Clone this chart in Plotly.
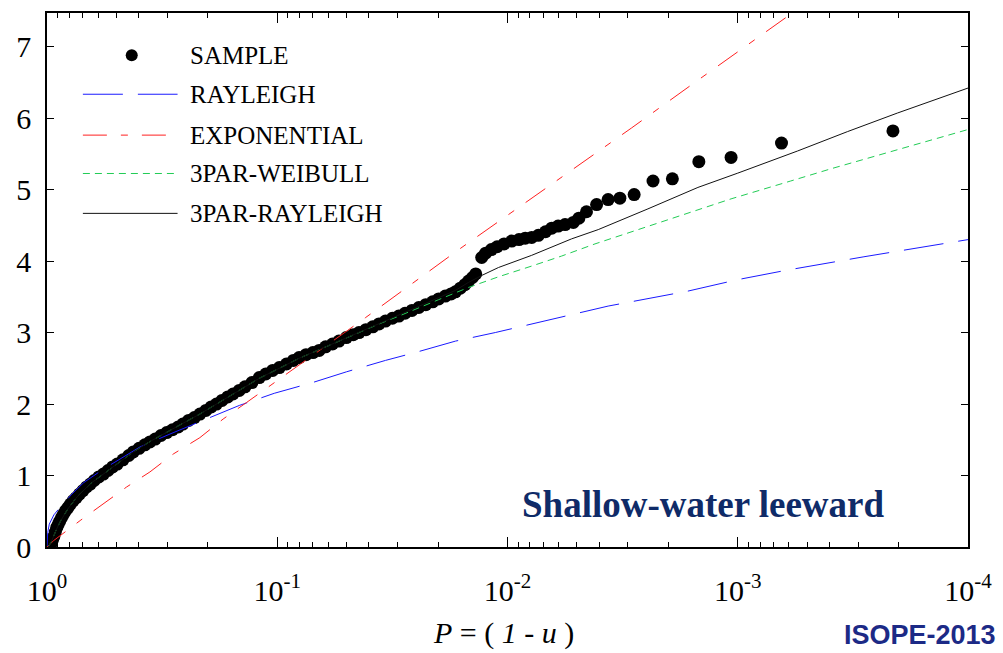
import numpy as np
import plotly.graph_objects as go

# ---- data: exceedance probability given as log10(P), value on the y axis ----
sample_log10p = [-0.013, -0.018, -0.024, -0.030, -0.036, -0.042, -0.048, -0.055, -0.063, -0.072,
                 -0.081, -0.091, -0.102, -0.114, -0.127, -0.141, -0.156, -0.172, -0.188, -0.205,
                 -0.225, -0.245, -0.265, -0.285, -0.305, -0.330, -0.355, -0.375, -0.400, -0.425,
                 -0.447, -0.470, -0.495, -0.520, -0.545, -0.570, -0.590, -0.615, -0.640, -0.664,
                 -0.690, -0.713, -0.736, -0.760, -0.785, -0.808, -0.835, -0.860, -0.890, -0.922,
                 -0.950, -0.980, -1.009, -1.040, -1.070, -1.095, -1.125, -1.155, -1.182, -1.210,
                 -1.240, -1.268, -1.300, -1.330, -1.355, -1.385, -1.415, -1.442, -1.470, -1.500,
                 -1.528, -1.555, -1.585, -1.615, -1.645, -1.675, -1.701, -1.730, -1.755, -1.774,
                 -1.795, -1.815, -1.831, -1.848, -1.862,
                 -1.888, -1.905, -1.930, -1.955, -1.985, -2.018, -2.050, -2.077, -2.105, -2.134,
                 -2.165, -2.192, -2.220, -2.250, -2.286, -2.310, -2.343, -2.387, -2.437, -2.488,
                 -2.550, -2.632, -2.716, -2.831, -2.971, -3.190, -3.674]
sample_y = [0.00, 0.05, 0.10, 0.15, 0.21, 0.27, 0.31, 0.36, 0.41, 0.46,
            0.51, 0.55, 0.60, 0.65, 0.69, 0.74, 0.79, 0.84, 0.88, 0.93,
            0.98, 1.02, 1.07, 1.12, 1.16, 1.22, 1.28, 1.33, 1.38, 1.43,
            1.47, 1.51, 1.56, 1.60, 1.64, 1.68, 1.72, 1.77, 1.81, 1.86,
            1.91, 1.96, 2.00, 2.05, 2.10, 2.14, 2.19, 2.24, 2.30, 2.37,
            2.42, 2.47, 2.51, 2.56, 2.61, 2.65, 2.69, 2.72, 2.75, 2.80,
            2.84, 2.88, 2.93, 2.97, 3.00, 3.04, 3.08, 3.12, 3.16, 3.20,
            3.23, 3.27, 3.31, 3.35, 3.39, 3.43, 3.47, 3.51, 3.54, 3.57,
            3.62, 3.67, 3.72, 3.77, 3.82,
            4.05, 4.11, 4.16, 4.20, 4.24, 4.28, 4.30, 4.32, 4.33, 4.36,
            4.41, 4.46, 4.49, 4.51, 4.54, 4.60, 4.69, 4.79, 4.86, 4.88,
            4.93, 5.12, 5.15, 5.39, 5.45, 5.65, 5.82]

rayleigh_log10p = [0.0, -0.003, -0.010, -0.030, -0.058, -0.108, -0.159, -0.245, -0.317, -0.404,
                   -0.534, -0.693, -0.835, -0.987, -1.153, -1.300, -1.470, -1.610, -1.774, -1.947,
                   -2.192, -2.437, -2.784, -3.000, -3.209, -3.548, -4.000]
rayleigh_y = [0.00, 0.20, 0.32, 0.45, 0.56, 0.74, 0.90, 1.09, 1.23, 1.40,
              1.58, 1.79, 1.98, 2.15, 2.30, 2.45, 2.61, 2.73, 2.88, 3.00,
              3.19, 3.37, 3.58, 3.74, 3.87, 4.06, 4.30]

exponential_log10p = [0.0, -0.029, -0.144, -0.245, -0.346, -0.447, -0.548, -0.664, -0.765, -0.866,
                      -1.384, -1.788, -1.961, -2.538, -2.827, -3.188, -3.250]
exponential_y = [0.00, 0.09, 0.37, 0.60, 0.84, 1.05, 1.30, 1.53, 1.79, 2.02,
                 3.21, 4.16, 4.55, 5.86, 6.53, 7.36, 7.50]

weibull3_log10p = [-0.005, -0.020, -0.040, -0.060, -0.090, -0.130, -0.190, -0.250, -0.300, -0.375,
                   -0.450, -0.520, -0.590, -0.664, -0.736, -0.808, -0.870, -0.922, -1.009, -1.095,
                   -1.182, -1.268, -1.355, -1.442, -1.528, -1.615, -1.701, -1.830, -1.961, -2.105,
                   -2.235, -2.380, -2.502, -2.610, -2.755, -2.971, -3.230, -3.404, -3.664, -4.000]
weibull3_y = [0.00, 0.08, 0.24, 0.37, 0.53, 0.70, 0.89, 1.03, 1.15, 1.33,
              1.48, 1.60, 1.73, 1.86, 2.00, 2.13, 2.25, 2.36, 2.50, 2.64,
              2.76, 2.88, 3.00, 3.12, 3.23, 3.35, 3.46, 3.63, 3.78, 3.93,
              4.07, 4.24, 4.37, 4.49, 4.65, 4.87, 5.12, 5.29, 5.53, 5.84]

rayleigh3_log10p = [-0.005, -0.020, -0.040, -0.060, -0.090, -0.130, -0.190, -0.250, -0.300, -0.375,
                    -0.450, -0.520, -0.590, -0.664, -0.736, -0.808, -0.870, -0.922, -1.009, -1.095,
                    -1.182, -1.268, -1.355, -1.442, -1.528, -1.615, -1.701, -1.774, -1.830, -1.889,
                    -1.961, -2.105, -2.278, -2.394, -2.610, -2.827, -3.000, -3.260, -3.476, -3.693,
                    -4.000]
rayleigh3_y = [0.00, 0.08, 0.24, 0.37, 0.53, 0.70, 0.89, 1.03, 1.15, 1.33,
               1.48, 1.60, 1.73, 1.86, 2.00, 2.13, 2.25, 2.36, 2.50, 2.64,
               2.76, 2.88, 3.00, 3.12, 3.24, 3.36, 3.48, 3.59, 3.70, 3.80,
               3.91, 4.08, 4.31, 4.44, 4.73, 5.03, 5.23, 5.54, 5.81, 6.07,
               6.42]

x_tick_vals = [1, 0.1, 0.01, 0.001, 0.0001]
x_tick_text = ["10<sup>0</sup>", "10<sup>-1</sup>", "10<sup>-2</sup>", "10<sup>-3</sup>", "10<sup>-4</sup>"]
y_tick_vals = [0, 1, 2, 3, 4, 5, 6, 7]

# ---- series styles ----
SERIF = "Liberation Serif, Times New Roman, serif"
series = [
    ("RAYLEIGH", rayleigh_log10p, rayleigh_y, "#1a1aff", "40px,15px"),
    ("EXPONENTIAL", exponential_log10p, exponential_y, "#ff2020", "24px,14px,7px,14px"),
    ("3PAR-WEIBULL", weibull3_log10p, weibull3_y, "#22cc55", "7px,5px"),
    ("3PAR-RAYLEIGH", rayleigh3_log10p, rayleigh3_y, "#111111", "solid"),
]

fig = go.Figure()
fig.add_trace(go.Scatter(
    x=10 ** np.array(sample_log10p), y=sample_y, mode="markers", name="SAMPLE",
    marker=dict(color="black", size=13, line=dict(width=0)), showlegend=False))
for name, lp, yv, col, dash in series:
    fig.add_trace(go.Scatter(
        x=10 ** np.array(lp), y=yv, mode="lines", name=name,
        line=dict(color=col, width=1, dash=dash), showlegend=False))

# minor ticks on the log axis (2..9 within each decade)
minor_vals = [k * 10.0 ** (-n) for n in range(1, 5) for k in range(2, 10)]

fig.update_xaxes(
    type="log", range=[0, -4],
    tickmode="array", tickvals=x_tick_vals, ticktext=x_tick_text,
    ticks="inside", ticklen=10, tickwidth=1, tickcolor="black",
    minor=dict(tickmode="array", tickvals=minor_vals, ticks="inside", ticklen=5,
               tickwidth=1, tickcolor="black", showgrid=False),
    showline=True, linecolor="black", linewidth=1.5, mirror="allticks",
    showgrid=False, zeroline=False,
    tickfont=dict(family=SERIF, size=30, color="black"),
    ticklabelstandoff=16,
)
fig.update_yaxes(
    range=[0, 7.47], tickmode="array", tickvals=y_tick_vals,
    ticks="inside", ticklen=7, tickwidth=1, tickcolor="black",
    showline=True, linecolor="black", linewidth=1.5, mirror="allticks",
    showgrid=False, zeroline=False,
    tickfont=dict(family=SERIF, size=30, color="black"),
    ticklabelstandoff=8,
)

# ---- legend drawn inside the plotting area ----
W, H, L, T = 924.0, 535.7, 47.0, 11.0
def px(xp):
    return (xp - L) / W
def py(yp):
    return (T + H - yp) / H

shapes = []
annotations = []
legend_rows = [("SAMPLE", 53.3)] + [(s[0], yy) for s, yy in zip(series, [92.5, 133.5, 172.0, 212.0])]
shapes.append(dict(type="circle", xref="paper", yref="paper", xsizemode="pixel", ysizemode="pixel",
                   xanchor=px(132), yanchor=py(53.3), x0=-6, x1=6, y0=-6, y1=6,
                   fillcolor="black", line=dict(width=0)))
for (name, lp, yv, col, dash), (_, yy) in zip(series, legend_rows[1:]):
    shapes.append(dict(type="line", xref="paper", yref="paper",
                       x0=px(83), x1=px(178), y0=py(yy), y1=py(yy),
                       line=dict(color=col, width=1, dash=dash)))
for name, yy in legend_rows:
    annotations.append(dict(text=name, xref="paper", yref="paper", x=px(188), y=py(yy),
                            xanchor="left", yanchor="middle", showarrow=False,
                            font=dict(family=SERIF, size=25, color="black")))

annotations.append(dict(text="<b>Shallow-water leeward</b>", xref="paper", yref="paper",
                        x=px(705), y=py(504), xanchor="center", yanchor="middle", showarrow=False,
                        font=dict(family=SERIF, size=37, color="#0f2b68")))
annotations.append(dict(text="<i>P</i> = ( <i>1</i> - <i>u</i> )", xref="paper", yref="paper",
                        x=px(505), y=py(633), xanchor="center", yanchor="middle", showarrow=False,
                        font=dict(family=SERIF, size=30, color="black")))
annotations.append(dict(text="<b>ISOPE-2013</b>", xref="paper", yref="paper",
                        x=px(1001), y=py(635), xanchor="right", yanchor="middle", showarrow=False,
                        font=dict(family="Liberation Sans, Arial, sans-serif", size=27, color="#1c2a86")))

fig.update_layout(
    width=1003, height=653,
    margin=dict(l=47, r=32, t=11, b=106),
    paper_bgcolor="white", plot_bgcolor="white",
    showlegend=False,
    shapes=shapes, annotations=annotations,
)

fig.write_html("out.html")
